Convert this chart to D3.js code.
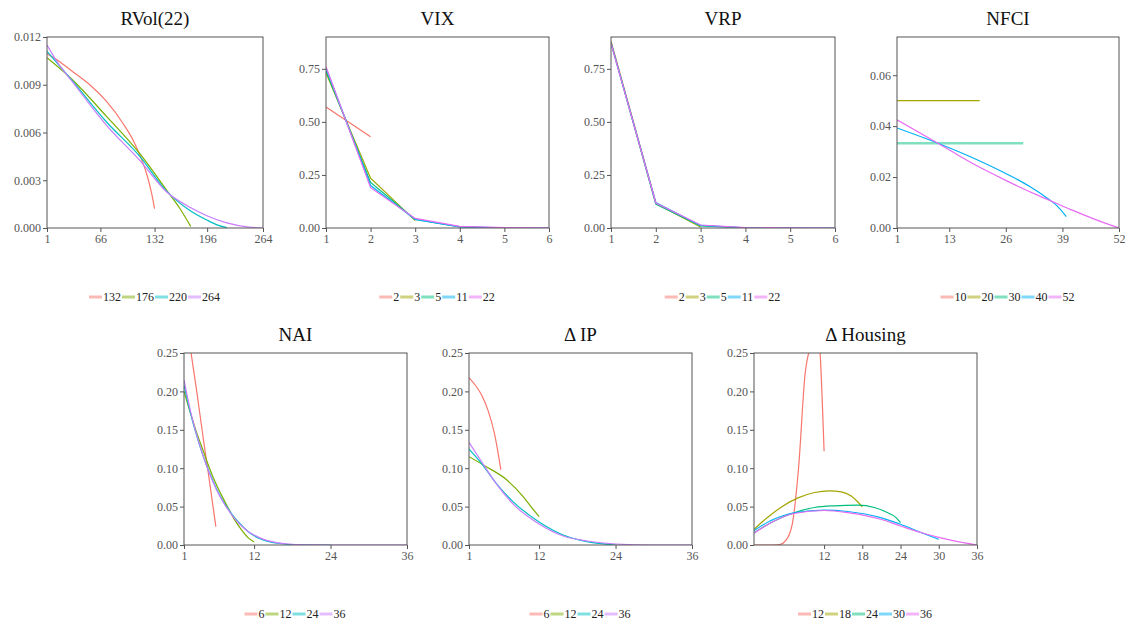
<!DOCTYPE html>
<html lang="en">
<head>
<meta charset="UTF-8">
<title>MIDAS weights</title>
<script src="https://d3js.org/d3.v7.min.js"></script>
<style>
  body { margin: 0; background: #fff; }
  text { font-family: "Liberation Serif", "DejaVu Serif", serif; }
  .tick text { fill: #555; font-size: 12px; }
  .tick line { stroke: #555; }
  .title { font-size: 19px; fill: #111; }
  .leg { font-size: 12px; fill: #222; }
</style>
</head>
<body>
<svg width="1129" height="624"></svg>
<script>
// colours (ggplot hue palette)
const pal4 = ["#F8766D", "#7CAE00", "#00BFC4", "#C77CFF"];
const pal5 = ["#F8766D", "#A3A500", "#00BF7D", "#00B0F6", "#E76BF3"];

// RVol(22): sampled [lag, weight]
const rvolNames = ["132", "176", "220", "264"];
const rvol132 = [[1,0.01095],[16.5,0.01045],[32.8,0.0098],[53.1,0.0090],[73.5,0.00795],[93.8,0.00655],[106,0.0055],[114,0.00458],[122.3,0.00341],[128.4,0.00218],[132,0.00121]];
const rvol176 = [[1,0.0107],[30.7,0.00938],[73.5,0.00701],[114,0.00467],[146.8,0.00237],[163,0.00121],[176,0.0001]];
const rvol220 = [[1,0.0111],[30.7,0.00932],[73.5,0.00666],[114,0.0045],[146.8,0.0023],[175,0.0011],[195.6,0.0005],[208,0.0002],[220,0.00002]];
const rvol264 = [[1,0.0115],[16.5,0.0102],[30.7,0.00927],[53,0.00777],[73.5,0.00645],[114,0.00425],[146.8,0.00226],[175,0.0013],[195.6,0.00077],[220,0.00032],[244.5,0.00007],[264,0]];

// VIX: weight by lag
const vixNames = ["2", "3", "5", "11", "22"];
const vix2 = [0.57, 0.43];
const vix3 = [0.73, 0.235, 0.035];
const vix5 = [0.74, 0.215, 0.04, 0.005, 0.0];
const vix11 = [0.755, 0.2, 0.04, 0.005, 0.0005, 0.0];
const vix22 = [0.76, 0.19, 0.045, 0.008, 0.002, 0.0005];

// VRP
const vrpNames = ["2", "3", "5", "11", "22"];
const vrp2 = [0.88, 0.12];
const vrp3 = [0.875, 0.115, 0.005];
const vrp5 = [0.875, 0.113, 0.01, 0.001, 0.0];
const vrp11 = [0.87, 0.12, 0.012, 0.001, 0.0, 0.0];
const vrp22 = [0.87, 0.118, 0.014, 0.002, 0.0003, 0.0];

// NFCI
const nfciNames = ["10", "20", "30", "40", "52"];
const nfci10 = [[1,0.1],[10,0.1]];
const nfci20 = [[1,0.05],[20,0.05]];
const nfci30 = [[1,0.0333],[30,0.0333]];
const nfci40 = [[1,0.0393],[10.4,0.0333],[18.5,0.0275],[26.1,0.0213],[31.5,0.0163],[35.3,0.012],[37.6,0.009],[39.9,0.0045]];
const nfci52 = [[1,0.0425],[10.4,0.0333],[18.5,0.0252],[26.1,0.0186],[33.8,0.0125],[37.6,0.0097],[41.4,0.0069],[46.8,0.0032],[52,0]];

// NAI
const naiNames = ["6", "12", "24", "36"];
const nai6 = [0.31, 0.256, 0.2, 0.14, 0.083, 0.024];
const nai12 = [0.2, 0.172, 0.146, 0.123, 0.1, 0.08, 0.063, 0.047, 0.032, 0.02, 0.01, 0.004];
const nai24 = [0.208, 0.172, 0.142, 0.116, 0.094, 0.075, 0.059, 0.046, 0.035, 0.026, 0.018, 0.012, 0.008, 0.005, 0.003, 0.002, 0.001, 0.0005, 0.0003, 0.0001, 0, 0, 0, 0];
const nai36 = [0.215, 0.175, 0.143, 0.116, 0.093, 0.074, 0.058, 0.045, 0.034, 0.025, 0.018, 0.013, 0.009, 0.006, 0.004, 0.0025, 0.0016, 0.001, 0.0006, 0.0003, 0.0002, 0.0001, 0, 0, 0, 0, 0, 0, 0, 0, 0, 0, 0, 0, 0, 0];

// Delta IP
const ipNames = ["6", "12", "24", "36"];
const ip6 = [0.218, 0.208, 0.195, 0.175, 0.145, 0.098];
const ip12 = [[1,0.115],[3.7,0.102],[6.9,0.085],[9.5,0.063],[11.1,0.046],[12,0.037]];
const ip24 = [[1,0.125],[2.7,0.109],[5.3,0.08],[7.9,0.0565],[12,0.03],[15.8,0.013],[19.5,0.0043],[24,0]];
const ip36 = [[1,0.1335],[2.7,0.112],[5.3,0.0796],[7.9,0.0535],[12,0.0274],[15.8,0.0117],[19.5,0.0052],[24,0.0013],[30,0],[36,0]];

// Delta Housing
const housNames = ["12", "18", "24", "30", "36"];
const hous12 = [0, 0, 0, 0, 0.0005, 0.006, 0.027, 0.101, 0.221, 0.262, 0.28, 0.122];
const hous18 = [[1,0.0205],[3.1,0.0357],[5.2,0.0488],[7.8,0.061],[10.5,0.0684],[12.8,0.0706],[14.7,0.0692],[16.2,0.064],[17.3,0.056],[18,0.0497]];
const hous24 = [[1,0.016],[4.1,0.031],[7.3,0.042],[10.5,0.0488],[13.6,0.051],[17.3,0.0518],[19.9,0.0488],[22,0.042],[23.3,0.0357],[24,0.029]];
const hous30 = [[1,0.019],[4.1,0.0335],[7.3,0.042],[12,0.0453],[15.7,0.0436],[20.9,0.0357],[24,0.027],[27.3,0.016],[30,0.0074]];
const hous36 = [[1,0.0152],[4.1,0.031],[7.3,0.041],[12,0.0449],[15.7,0.0422],[20.9,0.0335],[24,0.0248],[27.3,0.016],[30,0.01],[33,0.0044],[36,0]];

const svg = d3.select("svg");

const panels = [
  { title: "RVol(22)", x0: 47, x1: 263, y0: 37, y1: 228, xDom: [1, 264], xTicks: [1, 66, 132, 196, 264],
    yDom: [0, 0.012], yTicks: [0, 0.003, 0.006, 0.009, 0.012], fmt: ".3f", curve: d3.curveMonotoneX,
    names: rvolNames, series: [rvol132, rvol176, rvol220, rvol264], colors: pal4, legY: 297 },
  { title: "VIX", x0: 326, x1: 549, y0: 37, y1: 228, xDom: [1, 6], xTicks: [1, 2, 3, 4, 5, 6],
    yDom: [0, 0.9], yTicks: [0, 0.25, 0.5, 0.75], fmt: ".2f", curve: d3.curveLinear,
    names: vixNames, series: [vix2, vix3, vix5, vix11, vix22], colors: pal5, legY: 297 },
  { title: "VRP", x0: 611, x1: 835, y0: 37, y1: 228, xDom: [1, 6], xTicks: [1, 2, 3, 4, 5, 6],
    yDom: [0, 0.9], yTicks: [0, 0.25, 0.5, 0.75], fmt: ".2f", curve: d3.curveLinear,
    names: vrpNames, series: [vrp2, vrp3, vrp5, vrp11, vrp22], colors: pal5, legY: 297 },
  { title: "NFCI", x0: 897, x1: 1119, y0: 37, y1: 228, xDom: [1, 52], xTicks: [1, 13, 26, 39, 52],
    yDom: [0, 0.075], yTicks: [0, 0.02, 0.04, 0.06], fmt: ".2f", curve: d3.curveMonotoneX,
    names: nfciNames, series: [nfci10, nfci20, nfci30, nfci40, nfci52], colors: pal5, legY: 297 },
  { title: "NAI", x0: 184, x1: 407, y0: 353, y1: 545, xDom: [1, 36], xTicks: [1, 12, 24, 36],
    yDom: [0, 0.25], yTicks: [0, 0.05, 0.1, 0.15, 0.2, 0.25], fmt: ".2f", curve: d3.curveMonotoneX,
    names: naiNames, series: [nai6, nai12, nai24, nai36], colors: pal4, legY: 614 },
  { title: "\u0394 IP", x0: 469, x1: 692, y0: 353, y1: 545, xDom: [1, 36], xTicks: [1, 12, 24, 36],
    yDom: [0, 0.25], yTicks: [0, 0.05, 0.1, 0.15, 0.2, 0.25], fmt: ".2f", curve: d3.curveMonotoneX,
    names: ipNames, series: [ip6, ip12, ip24, ip36], colors: pal4, legY: 614 },
  { title: "\u0394 Housing", x0: 754, x1: 977, y0: 353, y1: 545, xDom: [1, 36], xTicks: [12, 18, 24, 30, 36],
    yDom: [0, 0.25], yTicks: [0, 0.05, 0.1, 0.15, 0.2, 0.25], fmt: ".2f", curve: d3.curveMonotoneX,
    names: housNames, series: [hous12, hous18, hous24, hous30, hous36], colors: pal5, legY: 614 }
];

panels.forEach((p, pi) => {
  const x = d3.scaleLinear().domain(p.xDom).range([p.x0, p.x1]);
  const y = d3.scaleLinear().domain(p.yDom).range([p.y1, p.y0]);
  const g = svg.append("g");

  g.append("clipPath").attr("id", "clip" + pi)
    .append("rect").attr("x", p.x0).attr("y", p.y0)
    .attr("width", p.x1 - p.x0).attr("height", p.y1 - p.y0);

  g.append("g").attr("transform", `translate(0,${p.y1})`)
    .call(d3.axisBottom(x).tickValues(p.xTicks).tickSize(4).tickPadding(2).tickFormat(d3.format("d")))
    .call(a => a.select(".domain").remove());
  g.append("g").attr("transform", `translate(${p.x0},0)`)
    .call(d3.axisLeft(y).tickValues(p.yTicks).tickSize(4).tickPadding(2).tickFormat(d3.format(p.fmt)))
    .call(a => a.select(".domain").remove());

  const line = d3.line().x(d => x(d[0])).y(d => y(d[1])).curve(p.curve);
  const lines = g.append("g").attr("clip-path", `url(#clip${pi})`);
  p.series.forEach((s, i) => {
    const pts = Array.isArray(s[0]) ? s : s.map((v, k) => [k + 1, v]);
    // the flat 30-lag NFCI line is drawn wider and lighter in the original
    const wide = p.title === "NFCI" && i === 2;
    lines.append("path").datum(pts)
      .attr("fill", "none")
      .attr("stroke", p.colors[i])
      .attr("stroke-opacity", wide ? 0.5 : 1)
      .attr("stroke-width", wide ? 2.6 : 1.2)
      .attr("d", line);
  });

  g.append("rect").attr("x", p.x0).attr("y", p.y0)
    .attr("width", p.x1 - p.x0).attr("height", p.y1 - p.y0)
    .attr("fill", "none").attr("stroke", "#555").attr("stroke-width", 1);

  g.append("text").attr("class", "title")
    .attr("x", (p.x0 + p.x1) / 2).attr("y", p.y0 - 12)
    .attr("text-anchor", "middle").text(p.title);

  // legend
  const leg = g.append("g");
  let cx = 0;
  p.names.forEach((n, i) => {
    leg.append("line").attr("x1", cx).attr("x2", cx + 13)
      .attr("y1", 0).attr("y2", 0)
      .attr("stroke", p.colors[i]).attr("stroke-opacity", 0.5).attr("stroke-width", 3);
    cx += 14;
    const t = leg.append("text").attr("class", "leg")
      .attr("x", cx).attr("y", 4).text(n);
    cx += t.node().getComputedTextLength() + 1;
  });
  leg.attr("transform", `translate(${(p.x0 + p.x1) / 2 - cx / 2},${p.legY})`);
});
</script>
</body>
</html>
